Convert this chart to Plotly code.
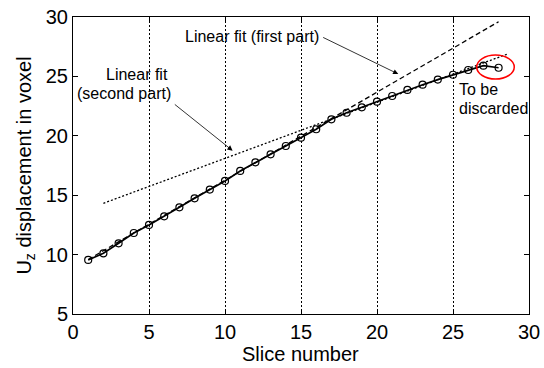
import plotly.graph_objects as go

# Measured displacement per slice
slices = list(range(1, 29))
uz = [9.55, 10.11, 10.95, 11.82, 12.5, 13.22, 13.98, 14.74, 15.47, 16.2,
      17.04, 17.77, 18.44, 19.14, 19.84, 20.55, 21.39, 21.94, 22.4, 22.87,
      23.35, 23.86, 24.3, 24.73, 25.14, 25.54, 25.9, 25.73]

# Linear fits (end points)
fit1_x = [1, 28]
fit1_y = [9.59, 29.6]
fit2_x = [2, 28.6]
fit2_y = [14.32, 26.89]

x_ticks = [0, 5, 10, 15, 20, 25, 30]
y_ticks = [5, 10, 15, 20, 25, 30]

FONT = "Liberation Sans, Arial, sans-serif"

fig = go.Figure()
fig.add_trace(go.Scatter(x=fit1_x, y=fit1_y, mode="lines",
                         line=dict(color="black", width=1.3, dash="5px,3px")))
fig.add_trace(go.Scatter(x=fit2_x, y=fit2_y, mode="lines",
                         line=dict(color="black", width=1.3, dash="2px,2px")))
fig.add_trace(go.Scatter(x=slices, y=uz, mode="lines+markers",
                         line=dict(color="black", width=1.7),
                         marker=dict(symbol="circle-open", size=7, color="black",
                                     line=dict(width=1.2, color="black"))))

# Highlight the last points
fig.add_shape(type="circle", xref="x", yref="y", x0=26.56, x1=29.03, y0=24.78, y1=26.8,
              line=dict(color="red", width=1.5))

ann_font = dict(family=FONT, size=16, color="black")
fig.add_annotation(x=11.78, y=28.32, text="Linear fit (first part)", showarrow=False,
                   font=ann_font, xanchor="center", yanchor="middle")
fig.add_annotation(x=4.18, y=25.18, text="Linear fit", showarrow=False,
                   font=ann_font, xanchor="center", yanchor="middle")
fig.add_annotation(x=3.36, y=23.58, text="(second part)", showarrow=False,
                   font=ann_font, xanchor="center", yanchor="middle")
fig.add_annotation(x=25.24, y=23.86, text="To be", showarrow=False,
                   font=ann_font, xanchor="left", yanchor="middle")
fig.add_annotation(x=25.24, y=22.26, text="discarded", showarrow=False,
                   font=ann_font, xanchor="left", yanchor="middle")

# Arrows
fig.add_annotation(x=21.4, y=25.2, ax=16.36, ay=28.34, axref="x", ayref="y",
                   xref="x", yref="y", text="", showarrow=True,
                   arrowhead=2, arrowsize=1.3, arrowwidth=0.8, arrowcolor="black")
fig.add_annotation(x=10.5, y=18.75, ax=6.6, ay=22.74, axref="x", ayref="y",
                   xref="x", yref="y", text="", showarrow=True,
                   arrowhead=2, arrowsize=1.3, arrowwidth=0.8, arrowcolor="black")

# x-axis title placed just below the tick labels
fig.add_annotation(xref="paper", yref="paper", x=0.4996, y=-0.133,
                   text="Slice number", showarrow=False,
                   font=dict(family=FONT, size=20, color="black"),
                   xanchor="center", yanchor="middle")

axis_common = dict(showline=True, linecolor="black", linewidth=1, mirror="ticks",
                   ticks="inside", ticklen=5, tickcolor="black", tickwidth=1,
                   zeroline=False, automargin=False,
                   tickfont=dict(family=FONT, size=20, color="black"))

fig.update_xaxes(range=[0, 30], tickvals=x_ticks, showgrid=True,
                 gridcolor="black", gridwidth=0.8, griddash="2px,2px",
                 **axis_common)
fig.update_yaxes(range=[5, 30], tickvals=y_ticks, showgrid=False,
                 title=dict(text="U<sub>z</sub> displacement in voxel",
                            font=dict(family=FONT, size=20, color="black"), standoff=8),
                 **axis_common)

fig.update_layout(width=544, height=368, showlegend=False,
                  margin=dict(l=73, r=15, t=17, b=54),
                  paper_bgcolor="white", plot_bgcolor="white")

fig.write_html("out.html")
